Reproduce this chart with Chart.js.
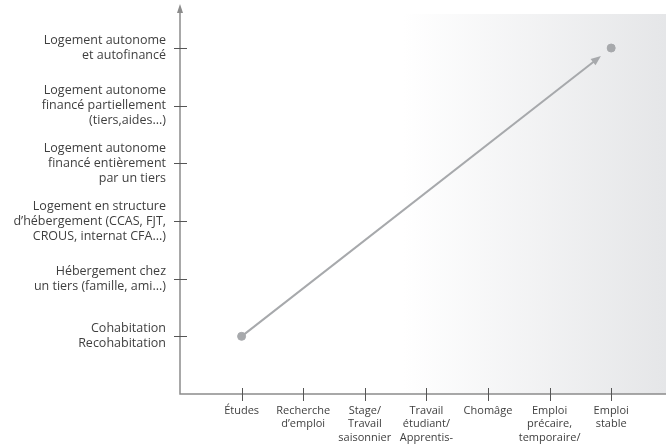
<!DOCTYPE html>
<html>
<head>
<meta charset="utf-8">
<script src="https://cdn.jsdelivr.net/npm/chart.js@4"></script>
<style>
  html, body { margin: 0; padding: 0; background: #fff; overflow: hidden; }
  #wrap { width: 666px; height: 447px; position: relative; }
</style>
</head>
<body>
<div id="wrap"><canvas id="parcoursChart"></canvas></div>
<script>
// Parcours : situation professionnelle / situation de logement

const situationsPro = [
  ["Études"],
  ["Recherche", "d’emploi"],
  ["Stage/", "Travail", "saisonnier"],
  ["Travail", "étudiant/", "Apprentis-"],
  ["Chomâge"],
  ["Emploi", "précaire,", "temporaire/"],
  ["Emploi", "stable"]
]

const situationsLogement = [
  ["Cohabitation", "Recohabitation"],
  ["Hébergement chez", "un tiers (famille, ami...)"],
  ["Logement en structure", "d’hébergement (CCAS, FJT,", "CROUS, internat CFA...)"],
  ["Logement autonome", "financé entièrement", "par un tiers"],
  ["Logement autonome", "financé partiellement", "(tiers,aides...)"],
  ["Logement autonome", "et autofinancé"]
]

// parcours : index situation pro -> index logement
const parcoursX = [0, 6]
const parcoursY = [0, 5]

const gris = "#a7a9ac"
const axeCouleur = "#8c8c8c"
const texteCouleur = "#3f3f3f"
const tickCouleur = "#555"

// fond dégradé + axes avec flèche + graduations qui traversent l'axe + flèche du parcours
const decorPlugin = {
  id: "decor",
  beforeDraw(chart) {
    const { ctx, chartArea } = chart
    const x0 = 403
    const g = ctx.createLinearGradient(x0, 0, chartArea.right, 0)
    g.addColorStop(0, "rgba(255,255,255,1)")
    g.addColorStop(1, "#e5e6e8")
    ctx.save()
    ctx.fillStyle = g
    ctx.fillRect(x0, chartArea.top, chartArea.right - x0, chartArea.bottom - chartArea.top)
    ctx.restore()
  },
  afterDatasetsDraw(chart) {
    const { ctx, chartArea, scales } = chart
    const xs = scales.x, ys = scales.y
    ctx.save()
    // axes
    ctx.strokeStyle = axeCouleur
    ctx.lineWidth = 1.5
    ctx.beginPath()
    ctx.moveTo(chartArea.left, 8)
    ctx.lineTo(chartArea.left, chartArea.bottom)
    ctx.lineTo(chartArea.right, chartArea.bottom)
    ctx.stroke()
    ctx.fillStyle = axeCouleur
    ctx.beginPath()
    ctx.moveTo(chartArea.left, 4)
    ctx.lineTo(chartArea.left - 3, 13)
    ctx.lineTo(chartArea.left + 3, 13)
    ctx.closePath()
    ctx.fill()
    // graduations
    ctx.strokeStyle = tickCouleur
    ctx.lineWidth = 1
    situationsLogement.forEach((_, i) => {
      const y = Math.round(ys.getPixelForValue(i)) + 0.5
      ctx.beginPath()
      ctx.moveTo(chartArea.left - 6, y)
      ctx.lineTo(chartArea.left + 7, y)
      ctx.stroke()
    })
    situationsPro.forEach((_, i) => {
      const x = Math.round(xs.getPixelForValue(i)) + 0.5
      ctx.beginPath()
      ctx.moveTo(x, chartArea.bottom - 6)
      ctx.lineTo(x, chartArea.bottom + 7)
      ctx.stroke()
    })
    // flèche du parcours
    const ax = xs.getPixelForValue(parcoursX[0]), ay = ys.getPixelForValue(parcoursY[0])
    const bx = xs.getPixelForValue(parcoursX[1]), by = ys.getPixelForValue(parcoursY[1])
    const ang = Math.atan2(by - ay, bx - ax)
    const tx = bx - Math.cos(ang) * 13, ty = by - Math.sin(ang) * 13
    const head = 10
    ctx.strokeStyle = gris
    ctx.fillStyle = gris
    ctx.lineWidth = 2
    ctx.beginPath()
    ctx.moveTo(ax, ay)
    ctx.lineTo(tx - Math.cos(ang) * head * 0.6, ty - Math.sin(ang) * head * 0.6)
    ctx.stroke()
    ctx.beginPath()
    ctx.moveTo(tx, ty)
    ctx.lineTo(tx - head * Math.cos(ang) + 4 * Math.sin(ang), ty - head * Math.sin(ang) - 4 * Math.cos(ang))
    ctx.lineTo(tx - head * Math.cos(ang) - 4 * Math.sin(ang), ty - head * Math.sin(ang) + 4 * Math.cos(ang))
    ctx.closePath()
    ctx.fill()
    ctx.restore()
  }
}

const ctxParcours = document.getElementById("parcoursChart")
new Chart(ctxParcours, {
  type: "scatter",
  data: {
    datasets: [
      {
        label: "Parcours",
        data: parcoursX.map((x, i) => ({ x: x, y: parcoursY[i] })),
        backgroundColor: gris,
        borderColor: gris,
        pointRadius: 4,
        pointHoverRadius: 4,
        showLine: false
      }
    ]
  },
  options: {
    responsive: true,
    maintainAspectRatio: false,
    animation: false,
    layout: { autoPadding: false, padding: { top: 14, right: 0, left: 0, bottom: 0 } },
    plugins: {
      legend: { display: false },
      tooltip: { enabled: false }
    },
    scales: {
      x: {
        type: "linear",
        min: -1,
        max: 6.89,
        afterFit: (s) => { s.height = 53; s.paddingLeft = 0; s.paddingRight = 0 },
        afterBuildTicks: (s) => { s.ticks = situationsPro.map((_, i) => ({ value: i })) },
        grid: { display: false },
        border: { display: false },
        ticks: {
          autoSkip: false,
          maxRotation: 0,
          padding: 2,
          color: texteCouleur,
          font: { family: "Open Sans", size: 11, lineHeight: 1.22 },
          callback: (v) => situationsPro[v]
        }
      },
      y: {
        type: "linear",
        min: -1,
        max: 5.59,
        afterFit: (s) => { s.width = 180; s.paddingTop = 0; s.paddingBottom = 0 },
        afterBuildTicks: (s) => { s.ticks = situationsLogement.map((_, i) => ({ value: i })) },
        grid: { display: false },
        border: { display: false },
        ticks: {
          autoSkip: false,
          padding: 6,
          color: texteCouleur,
          font: { family: "Open Sans", size: 12.5, lineHeight: 1.2 },
          callback: (v) => situationsLogement[v]
        }
      }
    }
  },
  plugins: [decorPlugin]
})
</script>
</body>
</html>
